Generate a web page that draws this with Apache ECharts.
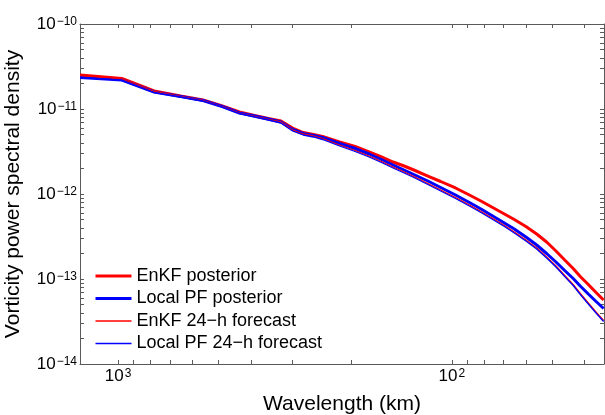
<!DOCTYPE html>
<html><head><meta charset="utf-8">
<script src="https://cdn.jsdelivr.net/npm/echarts@6/dist/echarts.min.js"></script>
<style>html,body{margin:0;padding:0;background:#fff}#c{width:605px;height:415px}</style>
</head><body><div id="c"></div>
<script>
// Wavelength (km)
const wavelengths = [1300, 975, 780, 650, 557, 487.5, 433, 390, 355, 325, 300, 279, 260, 244, 217, 195, 177, 162.5, 150, 139, 130, 118, 108, 97.5, 88.6, 81.3, 75, 69.6, 65, 60, 55.7, 52, 48.75, 45.9, 43.3, 41.1, 39, 37.1, 35.1];
const enkfPosterior = [2.512e-11, 2.285e-11, 1.628e-11, 1.422e-11, 1.276e-11, 1.085e-11, 9.22e-12, 8.386e-12, 7.73e-12, 7.225e-12, 5.976e-12, 5.29e-12, 5.012e-12, 4.748e-12, 4.09e-12, 3.621e-12, 3.12e-12, 2.725e-12, 2.379e-12, 2.135e-12, 1.916e-12, 1.628e-12, 1.403e-12, 1.177e-12, 9.73e-13, 8.162e-13, 6.843e-13, 5.816e-13, 5.012e-13, 4.145e-13, 3.383e-13, 2.725e-13, 2.135e-13, 1.673e-13, 1.329e-13, 1.056e-13, 8.616e-14, 7.031e-14, 5.661e-14];
const localPfPosterior = [2.348e-11, 2.194e-11, 1.585e-11, 1.403e-11, 1.259e-11, 1.07e-11, 8.97e-12, 8.27e-12, 7.627e-12, 7.031e-12, 5.738e-12, 5.15e-12, 4.877e-12, 4.621e-12, 3.928e-12, 3.43e-12, 2.955e-12, 2.546e-12, 2.194e-12, 1.916e-12, 1.696e-12, 1.422e-12, 1.192e-12, 9.73e-13, 7.943e-13, 6.57e-13, 5.436e-13, 4.558e-13, 3.875e-13, 3.12e-13, 2.512e-13, 1.995e-13, 1.585e-13, 1.259e-13, 1.014e-13, 8.162e-14, 6.66e-14, 5.51e-14, 4.497e-14];
const enkfForecast = [2.478e-11, 2.254e-11, 1.606e-11, 1.403e-11, 1.259e-11, 1.07e-11, 8.97e-12, 8.162e-12, 7.524e-12, 7.031e-12, 5.661e-12, 5.08e-12, 4.812e-12, 4.497e-12, 3.771e-12, 3.25e-12, 2.8e-12, 2.412e-12, 2.078e-12, 1.815e-12, 1.606e-12, 1.329e-12, 1.115e-12, 9.095e-13, 7.423e-13, 6.141e-13, 5.08e-13, 4.259e-13, 3.572e-13, 2.876e-13, 2.316e-13, 1.815e-13, 1.422e-13, 1.1e-13, 8.616e-14, 6.66e-14, 5.22e-14, 4.145e-14, 3.25e-14];
const localPfForecast = [2.348e-11, 2.194e-11, 1.564e-11, 1.384e-11, 1.242e-11, 1.056e-11, 8.853e-12, 8.053e-12, 7.423e-12, 6.843e-12, 5.51e-12, 4.944e-12, 4.684e-12, 4.377e-12, 3.671e-12, 3.162e-12, 2.725e-12, 2.348e-12, 2.022e-12, 1.767e-12, 1.564e-12, 1.294e-12, 1.085e-12, 8.853e-13, 7.225e-13, 5.976e-13, 4.944e-13, 4.145e-13, 3.476e-13, 2.8e-13, 2.254e-13, 1.767e-13, 1.384e-13, 1.07e-13, 8.386e-14, 6.483e-14, 5.08e-14, 4.035e-14, 3.162e-14];

const seriesNames = ['EnKF posterior', 'Local PF posterior', 'EnKF 24\u2212h forecast', 'Local PF 24\u2212h forecast'];
const xTickLabels = [1000, 100];
const yTickLabels = [1e-14, 1e-13, 1e-12, 1e-11, 1e-10];
const xTicks = [40, 50, 60, 70, 80, 90, 100, 200, 300, 400, 500, 600, 700, 800, 900, 1000];
const yTicks = [1e-14, 2e-14, 3e-14, 4e-14, 5e-14, 6e-14, 7e-14, 8e-14, 9e-14,
  1e-13, 2e-13, 3e-13, 4e-13, 5e-13, 6e-13, 7e-13, 8e-13, 9e-13,
  1e-12, 2e-12, 3e-12, 4e-12, 5e-12, 6e-12, 7e-12, 8e-12, 9e-12,
  1e-11, 2e-11, 3e-11, 4e-11, 5e-11, 6e-11, 7e-11, 8e-11, 9e-11, 1e-10];

const FONT = '"Liberation Sans", Arial, Helvetica, sans-serif';
const AXIS_COLOR = '#5a5a5a';
const COLORS = ['#ff0000', '#0000ff', '#ff0000', '#0000ff'];
const WIDTHS = [3, 3, 1.3, 1.3];

function powLabel(v) {
  const e = Math.round(Math.log10(v));
  return '{b|10}{e|' + (e < 0 ? '\u2212' : '') + Math.abs(e) + '}';
}
const rich = {
  b: { fontSize: 17, fontFamily: FONT, color: '#000', lineHeight: 17, verticalAlign: 'bottom' },
  e: { fontSize: 12, fontFamily: FONT, color: '#000', lineHeight: 12, verticalAlign: 'top', padding: [0, 0, 12, 1] }
};

function pairs(ys) { return wavelengths.map((w, i) => [w, ys[i]]); }

function xAxisCfg(pos, showLabel) {
  return {
    type: 'log', logBase: 10, inverse: true, min: 35, max: 1301, position: pos,
    axisLine: { show: true, onZero: false, lineStyle: { color: AXIS_COLOR, width: 1 } },
    axisTick: { show: true, inside: true, length: 4, customValues: xTicks, lineStyle: { color: AXIS_COLOR } },
    minorTick: { show: false },
    axisLabel: showLabel ? { show: true, customValues: xTickLabels, formatter: powLabel, rich: rich, margin: 4, hideOverlap: false } : { show: false },
    splitLine: { show: false },
    name: showLabel ? 'Wavelength (km)' : '',
    nameLocation: 'middle', nameGap: 30,
    nameTextStyle: { fontSize: 21, fontFamily: FONT, color: '#000' },
    nameMoveOverlap: false
  };
}
function yAxisCfg(pos, showLabel) {
  return {
    type: 'log', logBase: 10, min: 1e-14, max: 1e-10, position: pos,
    axisLine: { show: true, onZero: false, lineStyle: { color: AXIS_COLOR, width: 1 } },
    axisTick: { show: true, inside: true, length: 4, customValues: yTicks, lineStyle: { color: AXIS_COLOR } },
    minorTick: { show: false },
    axisLabel: showLabel ? { show: true, customValues: yTickLabels, formatter: powLabel, rich: rich, margin: 3, hideOverlap: false } : { show: false },
    splitLine: { show: false },
    name: showLabel ? 'Vorticity power spectral density' : '',
    nameLocation: 'middle', nameGap: 56,
    nameTextStyle: { fontSize: 21, fontFamily: FONT, color: '#000' },
    nameMoveOverlap: false
  };
}

const chart = echarts.init(document.getElementById('c'), null, { renderer: 'canvas' });
chart.setOption({
  animation: false,
  backgroundColor: '#fff',
  grid: { left: 80, right: 1, top: 24, bottom: 51, containLabel: false, outerBoundsMode: 'none' },
  xAxis: [xAxisCfg('bottom', true), xAxisCfg('top', false)],
  yAxis: [yAxisCfg('left', true), yAxisCfg('right', false)],
  legend: {
    data: seriesNames.map((n, i) => ({ name: n, lineStyle: { width: WIDTHS[i], color: COLORS[i] } })),
    orient: 'vertical', left: 94, top: 267, padding: 0,
    itemWidth: 36, itemHeight: 14, itemGap: 4.5,
    itemStyle: { opacity: 0 },
    textStyle: { fontSize: 18, fontFamily: FONT, color: '#000' }
  },
  series: seriesNames.map((n, i) => ({
    name: n, type: 'line',
    data: pairs([enkfPosterior, localPfPosterior, enkfForecast, localPfForecast][i]),
    symbol: 'none', showSymbol: false,
    lineStyle: { color: COLORS[i], width: WIDTHS[i] }, itemStyle: { color: COLORS[i] }
  }))
});
</script></body></html>
